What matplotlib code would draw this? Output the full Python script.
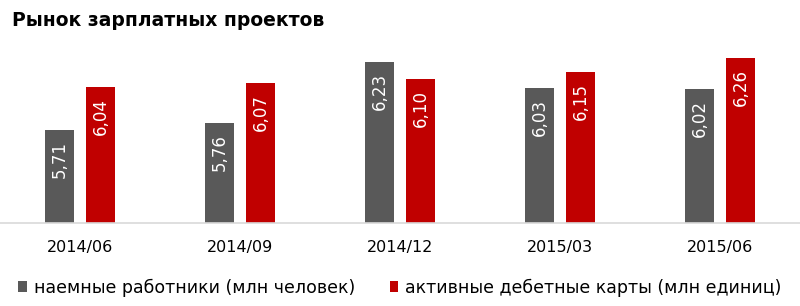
import numpy as np
from matplotlib import pyplot as plt
from matplotlib.patches import Patch

categories = ["2014/06", "2014/09", "2014/12", "2015/03", "2015/06"]
workers = [5.71, 5.76, 6.23, 6.03, 6.02]
cards = [6.04, 6.07, 6.10, 6.15, 6.26]
series_names = ["наемные работники (млн человек)", "активные дебетные карты (млн единиц)"]

GREY = "#595959"
RED = "#C00000"
BAR_W = 0.185
GAP = 0.07

plt.rcParams["font.family"] = ["DejaVu Sans"]

fig = plt.figure(figsize=(8.0, 3.06), dpi=100)
ax = fig.add_axes([0.0, 0.271, 1.0, 0.60])

x = np.arange(len(categories))
off = (BAR_W + GAP) / 2
b1 = ax.bar(x - off, workers, BAR_W, color=GREY)
b2 = ax.bar(x + off, cards, BAR_W, color=RED)

for bars, vals in ((b1, workers), (b2, cards)):
    for rect, v in zip(bars, vals):
        ax.annotate(f"{v:.2f}".replace(".", ","),
                    (rect.get_x() + rect.get_width() / 2, rect.get_height()),
                    xytext=(0, -8), textcoords="offset points",
                    ha="center", va="top", rotation=90,
                    color="white", fontsize=12)

ax.set_ylim(5.0, 6.4)
ax.set_xlim(-0.5, len(categories) - 0.5)
ax.set_xticks(x)
ax.set_xticklabels(categories, fontsize=11.5)
ax.tick_params(axis="x", length=0, pad=12, colors="#000000")
ax.set_yticks([])
for s in ("top", "right", "left"):
    ax.spines[s].set_visible(False)
ax.spines["bottom"].set_color("#D9D9D9")
ax.spines["bottom"].set_linewidth(1.2)

fig.text(0.015, 0.932, "Рынок зарплатных проектов", fontsize=13.5,
         fontweight="bold", ha="left", va="center")

handles = [Patch(facecolor=GREY), Patch(facecolor=RED)]
fig.legend(handles, series_names, loc="center", bbox_to_anchor=(0.5, 0.06),
           ncol=2, frameon=False, fontsize=12.5, handlelength=0.5,
           handleheight=0.6, handletextpad=0.4, columnspacing=2.0)

fig.savefig("out.png", dpi=100)
